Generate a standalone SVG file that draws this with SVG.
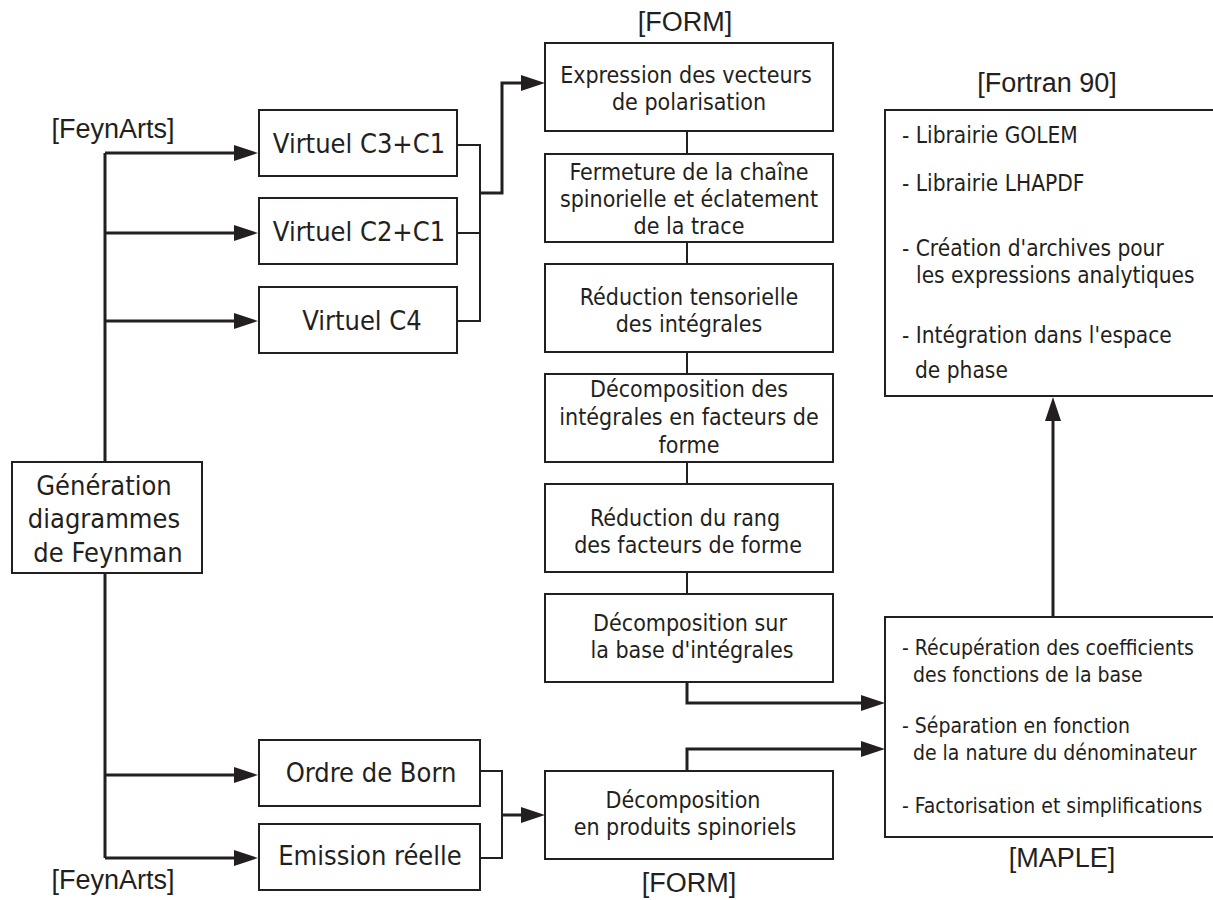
<svg xmlns="http://www.w3.org/2000/svg" width="1213" height="900" viewBox="0 0 1213 900">
<style>
.box{fill:#fff;stroke:#231f20;stroke-width:2}
.t{font-family:'DejaVu Sans Condensed','DejaVu Sans',sans-serif;fill:#231f20;font-stretch:condensed}
.c{text-anchor:middle}
.big{font-size:27px}
.mid{font-size:23px}
.fo{font-size:22.5px}
.ma{font-size:21px}
.lab{font-family:'Liberation Sans',Arial,sans-serif;font-size:27px;fill:#231f20;text-anchor:middle}
.thin{fill:none;stroke:#231f20;stroke-width:2}
.thick{fill:none;stroke:#231f20;stroke-width:3}
</style>
<defs>
<marker id="ah" markerUnits="userSpaceOnUse" markerWidth="24" markerHeight="16" refX="14" refY="8" orient="auto" viewBox="0 0 24 16">
<path d="M0,0 L24,8 L0,16 z" fill="#231f20"/>
</marker>
</defs>
<rect width="1213" height="900" fill="#fff"/>

<g id="labels">
<text class="lab" x="113" y="138">[FeynArts]</text>
<text class="lab" x="113" y="889">[FeynArts]</text>
<text class="lab" x="685" y="31">[FORM]</text>
<text class="lab" x="689" y="892">[FORM]</text>
<text class="lab" x="1047" y="92">[Fortran 90]</text>
<text class="lab" x="1062" y="867">[MAPLE]</text>
</g>

<g id="connectors">
<path class="thick" d="M105,153 V462 M105,573 V858"/>
<path class="thick" d="M105,153 H248" marker-end="url(#ah)"/>
<path class="thick" d="M105,233 H248" marker-end="url(#ah)"/>
<path class="thick" d="M105,321 H248" marker-end="url(#ah)"/>
<path class="thick" d="M105,775 H248" marker-end="url(#ah)"/>
<path class="thick" d="M105,858 H248" marker-end="url(#ah)"/>
<path class="thin" d="M457,145 H480 M457,233 H480 M457,321 H480 M480,144 V322"/>
<path class="thick" d="M480,193 H502 V83 H535" marker-end="url(#ah)"/>
<path class="thin" d="M687,131 V154 M687,242 V264 M687,352 V374 M687,462 V484 M687,572 V594"/>
<path class="thick" d="M687,682 V703 H875" marker-end="url(#ah)"/>
<path class="thick" d="M687,771 V749 H875" marker-end="url(#ah)"/>
<path class="thin" d="M480,771 H502 M480,858 H502 M502,770 V859"/>
<path class="thick" d="M502,815 H535" marker-end="url(#ah)"/>
<path class="thick" d="M1053,617 V407" marker-end="url(#ah)"/>
</g>

<g id="gen">
<rect class="box" x="12" y="462" width="190" height="111"/>
<text class="t big c" x="104" y="495">Génération</text>
<text class="t big c" x="104" y="528">diagrammes</text>
<text class="t big c" x="108" y="562">de Feynman</text>
</g>

<g id="v31">
<rect class="box" x="259" y="110" width="198" height="66"/>
<text class="t big c" x="359" y="153">Virtuel C3+C1</text>
</g>
<g id="v21">
<rect class="box" x="259" y="198" width="198" height="66"/>
<text class="t big c" x="359" y="241">Virtuel C2+C1</text>
</g>
<g id="v4">
<rect class="box" x="259" y="287" width="198" height="66"/>
<text class="t big c" x="362" y="330">Virtuel C4</text>
</g>
<g id="born">
<rect class="box" x="259" y="740" width="221" height="66"/>
<text class="t big c" x="371" y="782">Ordre de Born</text>
</g>
<g id="emis">
<rect class="box" x="259" y="824" width="221" height="66"/>
<text class="t big c" x="370" y="865">Emission réelle</text>
</g>

<g id="f1">
<rect class="box" x="545" y="43" width="288" height="88"/>
<text class="t mid c" x="686" y="83">Expression des vecteurs</text>
<text class="t mid c" x="689" y="110">de polarisation</text>
</g>
<g id="f2">
<rect class="box" x="545" y="154" width="288" height="88"/>
<text class="t mid c" x="689" y="180">Fermeture de la chaîne</text>
<text class="t mid c" x="689" y="207">spinorielle et éclatement</text>
<text class="t mid c" x="689" y="234">de la trace</text>
</g>
<g id="f3">
<rect class="box" x="545" y="264" width="288" height="88"/>
<text class="t mid c" x="689" y="305">Réduction tensorielle</text>
<text class="t mid c" x="689" y="332">des intégrales</text>
</g>
<g id="f4">
<rect class="box" x="545" y="374" width="288" height="88"/>
<text class="t mid c" x="689" y="397">Décomposition des</text>
<text class="t mid c" x="689" y="425">intégrales en facteurs de</text>
<text class="t mid c" x="689" y="453">forme</text>
</g>
<g id="f5">
<rect class="box" x="545" y="484" width="288" height="88"/>
<text class="t mid c" x="685" y="526">Réduction du rang</text>
<text class="t mid c" x="688" y="553">des facteurs de forme</text>
</g>
<g id="f6">
<rect class="box" x="545" y="594" width="288" height="88"/>
<text class="t mid c" x="690" y="631">Décomposition sur</text>
<text class="t mid c" x="692" y="658">la base d'intégrales</text>
</g>
<g id="f7">
<rect class="box" x="545" y="771" width="288" height="88"/>
<text class="t mid c" x="683" y="808">Décomposition</text>
<text class="t mid c" x="685" y="835">en produits spinoriels</text>
</g>

<g id="fortran">
<rect class="box" x="885" y="110" width="332" height="286"/>
<text class="t fo" x="902" y="143">- Librairie GOLEM</text>
<text class="t fo" x="902" y="191">- Librairie LHAPDF</text>
<text class="t fo" x="902" y="256">- Création d'archives pour</text>
<text class="t fo" x="916" y="283">les expressions analytiques</text>
<text class="t fo" x="902" y="343">- Intégration dans l'espace</text>
<text class="t fo" x="915" y="378">de phase</text>
</g>

<g id="maple">
<rect class="box" x="885" y="617" width="332" height="220"/>
<text class="t ma" x="902" y="655">- Récupération des coefficients</text>
<text class="t ma" x="913" y="682">des fonctions de la base</text>
<text class="t ma" x="902" y="733">- Séparation en fonction</text>
<text class="t ma" x="913" y="760">de la nature du dénominateur</text>
<text class="t ma" x="902" y="813">- Factorisation et simplifications</text>
</g>
</svg>
